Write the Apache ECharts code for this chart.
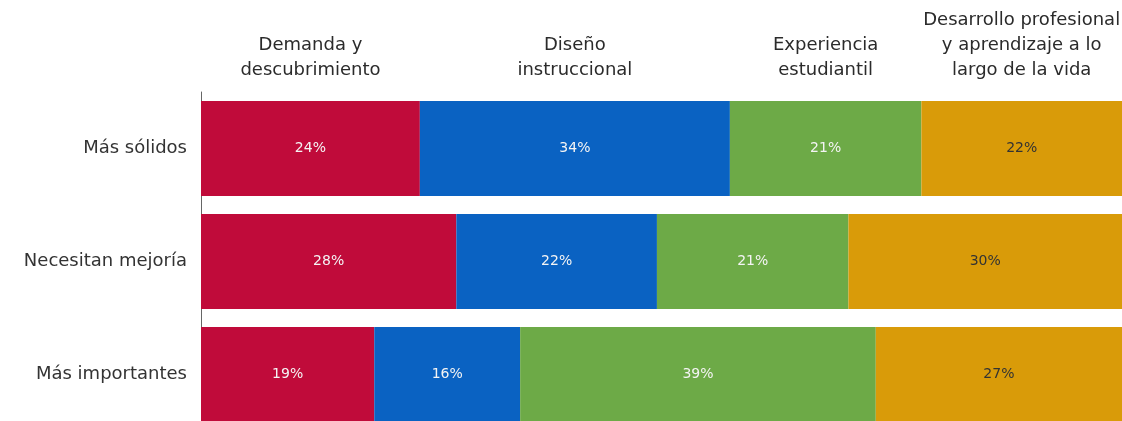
<!DOCTYPE html>
<html>
<head>
<meta charset="utf-8">
<script src="https://cdn.jsdelivr.net/npm/echarts@6/dist/echarts.min.js"></script>
<style>
  html, body { margin: 0; padding: 0; background: #fff; }
  #chart { width: 1122px; height: 421px; }
</style>
</head>
<body>
<div id="chart"></div>
<script>
// rows, top to bottom
const categories = ["Más sólidos", "Necesitan mejoría", "Más importantes"];
const seriesNames = [
  "Demanda y\ndescubrimiento",
  "Diseño\ninstruccional",
  "Experiencia\nestudiantil",
  "Desarrollo profesional\ny aprendizaje a lo\nlargo de la vida"
];
const demanda = [24, 28, 19];
const diseno = [34, 22, 16];
const experiencia = [21, 21, 39];
const desarrollo = [22, 30, 27];

const values = [demanda, diseno, experiencia, desarrollo];
const colors = ["#C00B3A", "#0A62C2", "#6DAA47", "#D99B09"];
const labelColors = ["#f4f4f4", "#f4f4f4", "#f4f4f4", "#333333"];
const font = "'DejaVu Sans', sans-serif";

let series = [];
values.forEach((v, i) => {
  series.push({
    name: seriesNames[i],
    type: "bar",
    stack: "total",
    barWidth: 95,
    barGap: "-100%",
    itemStyle: { color: colors[i] },
    label: {
      show: true,
      position: "inside",
      formatter: "{c}%",
      color: labelColors[i],
      fontSize: 14,
      fontFamily: font
    },
    data: v
  });
});
// series names shown above the first row segments (transparent overlay)
values.forEach((v, i) => {
  series.push({
    name: "hdr" + i,
    type: "bar",
    stack: "header",
    barWidth: 95,
    barGap: "-100%",
    silent: true,
    itemStyle: { color: "rgba(0,0,0,0)" },
    label: {
      show: true,
      position: "top",
      distance: 18,
      formatter: () => seriesNames[i],
      color: "#2b2b2b",
      fontSize: 18,
      lineHeight: 25,
      fontFamily: font,
      align: "center"
    },
    data: v.map((d, j) => (j === 0 ? d : "-"))
  });
});

const chart = echarts.init(document.getElementById("chart"));
chart.setOption({
  animation: false,
  grid: { left: 201, top: 92, width: 921, height: 339, outerBoundsMode: "none", containLabel: false },
  xAxis: {
    type: "value",
    min: 0,
    max: 101,
    show: false
  },
  yAxis: {
    type: "category",
    inverse: true,
    data: categories,
    axisLine: { show: true, lineStyle: { color: "#666", width: 1 } },
    axisTick: { show: false },
    axisLabel: {
      color: "#333",
      fontSize: 18,
      fontFamily: font,
      margin: 14
    }
  },
  series: series
});
</script>
</body>
</html>
